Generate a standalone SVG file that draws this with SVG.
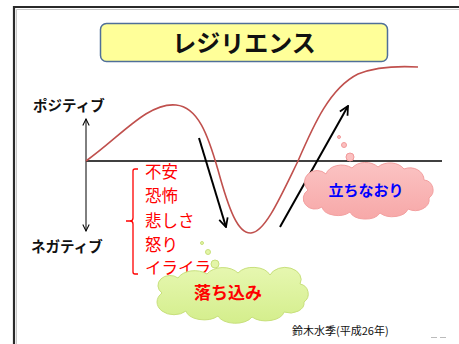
<svg xmlns="http://www.w3.org/2000/svg" width="459" height="344" viewBox="0 0 459 344">
<defs>
<style>
.jp{font-family:"Noto Sans CJK JP","Noto Sans CJK SC",sans-serif;}
.lbl{font-weight:bold;font-size:14.5px;fill:#111;}
.neg{font-size:16.5px;fill:#ff0000;}
.ax{stroke:#000;stroke-width:1.5;fill:none;}
.arr{stroke:#000;stroke-width:2;fill:none;}
</style>
<marker id="ah" viewBox="0 0 10 10" refX="9" refY="5" markerWidth="8" markerHeight="8" orient="auto-start-reverse" markerUnits="userSpaceOnUse">
<path d="M1,1 L9,5 L1,9" fill="none" stroke="#000" stroke-width="1.3"/>
</marker>
<marker id="ah2" viewBox="0 0 10 10" refX="9" refY="5" markerWidth="11" markerHeight="11" orient="auto" markerUnits="userSpaceOnUse">
<path d="M1,1 L9,5 L1,9" fill="none" stroke="#000" stroke-width="1.6"/>
</marker>
<linearGradient id="pk" x1="0" y1="0" x2="0" y2="1">
<stop offset="0" stop-color="#fbc3c3"/><stop offset="1" stop-color="#f7a8a8"/>
</linearGradient>
<linearGradient id="gr" x1="0" y1="0" x2="0" y2="1">
<stop offset="0" stop-color="#e6f7b0"/><stop offset="1" stop-color="#d4ee8c"/>
</linearGradient>
</defs>
<rect width="459" height="344" fill="#fff"/>
<g id="frame">
<path d="M14,344 V7 H459" fill="none" stroke="#2a2a2a" stroke-width="2.2"/>
<path d="M16.5,344 V9.5 H459" fill="none" stroke="#bbb" stroke-width="0.8"/>
</g>
<g id="title">
<rect x="100.5" y="23.5" width="287" height="38" rx="6" fill="#ffff99" stroke="#4f6f99" stroke-width="1.5"/>
<text class="jp" x="244" y="52" text-anchor="middle" font-size="24" font-weight="bold" fill="#111">レジリエンス</text>
</g>
<g id="axes">
<line class="ax" x1="86" y1="161" x2="442" y2="161"/>
<line x1="86" y1="119" x2="86" y2="231" stroke="#000" stroke-width="1" marker-start="url(#ah)" marker-end="url(#ah)"/>
<text class="jp lbl" x="33" y="111">ポジティブ</text>
<text class="jp lbl" x="31" y="252">ネガティブ</text>
</g>
<g id="curve">
<path d="M86,161 C120,137 148,102 176,105 C198,107 208,135 218,170 C229,210 238,234 251,233 C265,232 280,198 298,161 C314,124 330,88 358,74 C378,66 400,66 418,67" fill="none" stroke="#c0504d" stroke-width="1.6"/>
</g>
<g id="connectors">
<line class="arr" x1="199" y1="138" x2="226" y2="227" marker-end="url(#ah2)"/>
<line class="arr" x1="280" y1="227" x2="348" y2="106" marker-end="url(#ah2)"/>
</g>
<g id="emotions">
<path d="M138,169 H135 Q133,169 133,171 V218 Q133,221 130,221 H126 M130,221 Q133,221 133,224 V272 Q133,274 135,274 H138" fill="none" stroke="#ff0000" stroke-width="1.3"/>
<text class="jp neg" x="145" y="178">不安</text>
<text class="jp neg" x="145" y="202">恐怖</text>
<text class="jp neg" x="145" y="227">悲しさ</text>
<text class="jp neg" x="145" y="251">怒り</text>
<text class="jp neg" x="145" y="274">イライラ</text>
</g>
<g id="bubbles-pink" fill="#fbc0c0" stroke="#f29a9a" stroke-width="1">
<circle cx="339" cy="137" r="1.5"/>
<circle cx="344" cy="145" r="2.5"/>
<circle cx="350" cy="157" r="4"/>
</g>
<g id="cloud-pink">
<path d="M308,190 A12,11 0 0 1 326,174 A16,12 0 0 1 352,168 A16,12 0 0 1 378,167 A16,12 0 0 1 404,169 A14,12 0 0 1 424,180 A10,10 0 0 1 429,198 A14,11 0 0 1 408,209 A16,10 0 0 1 380,213 A16,10 0 0 1 350,212 A16,10 0 0 1 322,207 A10,9 0 0 1 308,190 Z" fill="url(#pk)" stroke="#f3a0a0" stroke-width="1"/>
<text class="jp" x="366" y="196" text-anchor="middle" font-size="15" font-weight="bold" fill="#0000ff">立ちなおり</text>
</g>
<g id="bubbles-green" fill="#e3f5a8" stroke="#c8e07c" stroke-width="1">
<circle cx="202" cy="243" r="1.5"/>
<circle cx="208" cy="252" r="2.5"/>
<circle cx="215" cy="264" r="4"/>
</g>
<g id="cloud-green">
<path d="M162,293 A12,10 0 0 1 178,278 A18,12 0 0 1 207,274 A18,12 0 0 1 238,273 A18,12 0 0 1 270,275 A16,12 0 0 1 300,284 A10,10 0 0 1 304,302 A14,10 0 0 1 284,312 A18,10 0 0 1 252,317 A18,10 0 0 1 218,316 A18,10 0 0 1 186,311 A12,9 0 0 1 162,293 Z" fill="url(#gr)" stroke="#c8e07c" stroke-width="1"/>
<text class="jp" x="228" y="299" text-anchor="middle" font-size="17" font-weight="bold" fill="#ff0000">落ち込み</text>
</g>
<g id="footer">
<text class="jp" x="292" y="335" font-size="11" fill="#111">鈴木水季(平成26年)</text>
<path d="M431,337.5 H437 M440,337.5 H446" stroke="#aaa" stroke-width="0.8"/>
</g>
</svg>
